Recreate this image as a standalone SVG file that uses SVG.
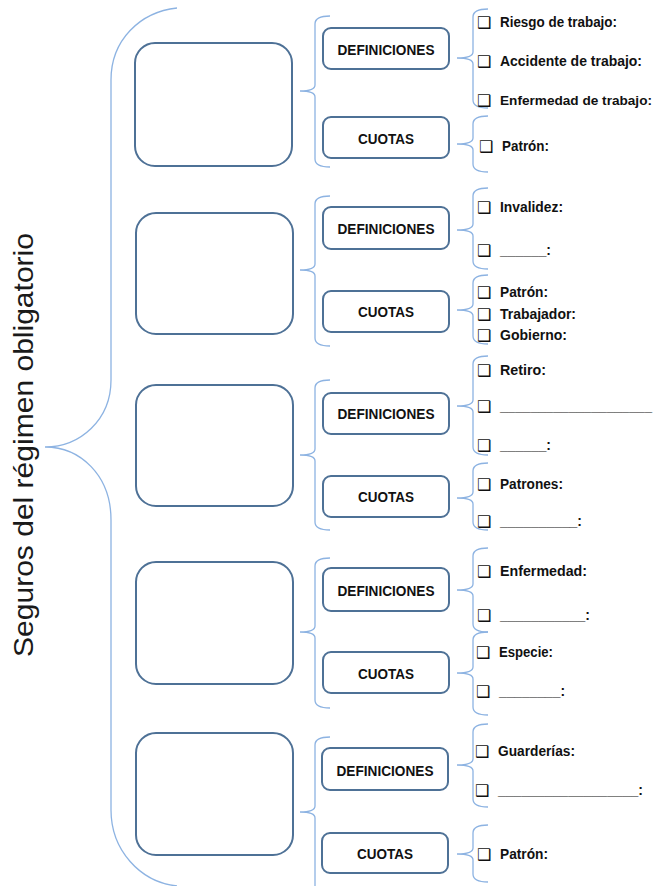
<svg xmlns="http://www.w3.org/2000/svg" width="658" height="886" viewBox="0 0 658 886">
<style>
.big{fill:#fff;stroke:#4e7196;stroke-width:2}
.sm{fill:#fff;stroke:#4e7196;stroke-width:2}
.br{fill:none;stroke:#8db3e2;stroke-width:1.3}
.lbl{font-family:"Liberation Sans",Arial,sans-serif;font-weight:bold;font-size:14px;fill:#111;text-anchor:middle}
.it{font-family:"Liberation Sans",Arial,sans-serif;font-weight:bold;font-size:14.5px;fill:#111}
.cb{font-family:"DejaVu Sans",sans-serif;font-weight:bold;font-size:16px;fill:#111}
.title{font-family:"Liberation Sans",Arial,sans-serif;font-size:28px;fill:#1a1a1a;text-anchor:middle}
</style>
<rect width="658" height="886" fill="#fff"/>
<g id="connectors">
<path class="br" d="M177,8 C140,12 111,40 111,80 V380 C111,420 80,447 45,447 C80,447 111,475 111,520 V810 C111,850 140,882 177,886"/>
<path class="br" d="M330,16 Q315,16 315,24 V85 Q315,91 300,91 Q315,91 315,97 V159 Q315,167 330,167"/>
<path class="br" d="M330,196 Q315,196 315,204 V264 Q315,270 300,270 Q315,270 315,276 V338 Q315,346 330,346"/>
<path class="br" d="M330,380 Q315,380 315,388 V449 Q315,455 300,455 Q315,455 315,461 V522 Q315,530 330,530"/>
<path class="br" d="M330,558 Q315,558 315,566 V626 Q315,632 300,632 Q315,632 315,638 V700 Q315,708 330,708"/>
<path class="br" d="M330,737 Q315,737 315,745 V806 Q315,812 300,812 Q315,812 315,818 V886"/>
<path class="br" d="M488,9 Q473,9 473,17 V52 Q473,58 457,58 Q473,58 473,64 V100 Q473,108 488,108"/>
<path class="br" d="M488,116 Q473,116 473,124 V138 Q473,144 457,144 Q473,144 473,150 V164 Q473,172 488,172"/>
<path class="br" d="M488,188 Q473,188 473,196 V224 Q473,230 457,230 Q473,230 473,236 V261 Q473,269 488,269"/>
<path class="br" d="M488,275 Q473,275 473,283 V304 Q473,310 457,310 Q473,310 473,316 V336 Q473,344 488,344"/>
<path class="br" d="M488,356 Q473,356 473,364 V400 Q473,406 457,406 Q473,406 473,412 V447 Q473,455 488,455"/>
<path class="br" d="M488,463 Q473,463 473,471 V492 Q473,498 457,498 Q473,498 473,504 V522 Q473,530 488,530"/>
<path class="br" d="M488,548 Q473,548 473,556 V584 Q473,590 457,590 Q473,590 473,596 V624 Q473,632 488,632"/>
<path class="br" d="M488,632 Q473,632 473,640 V667 Q473,673 457,673 Q473,673 473,679 V707 Q473,715 488,715"/>
<path class="br" d="M488,724 Q473,724 473,732 V759 Q473,765 457,765 Q473,765 473,771 V799 Q473,807 488,807"/>
<path class="br" d="M488,825 Q473,825 473,833 V848 Q473,854 457,854 Q473,854 473,860 V874 Q473,882 488,882"/>
</g>
<g id="title"><text class="title" transform="translate(33,445) rotate(-90)" textLength="424" lengthAdjust="spacingAndGlyphs">Seguros del régimen obligatorio</text></g>
<g id="box1"><rect class="big" x="135" y="43" width="157" height="123" rx="20"/></g>
<g id="box2"><rect class="big" x="136" y="213" width="157" height="121" rx="20"/></g>
<g id="box3"><rect class="big" x="136" y="385" width="157" height="121" rx="20"/></g>
<g id="box4"><rect class="big" x="136" y="562" width="157" height="122" rx="20"/></g>
<g id="box5"><rect class="big" x="136" y="733" width="157" height="122" rx="20"/></g>
<g id="def1"><rect class="sm" x="323" y="28" width="126" height="41" rx="8"/><text class="lbl" x="386" y="55" textLength="97" lengthAdjust="spacingAndGlyphs">DEFINICIONES</text></g>
<g id="cuo1"><rect class="sm" x="323" y="117" width="126" height="41" rx="8"/><text class="lbl" x="386" y="144" textLength="56" lengthAdjust="spacingAndGlyphs">CUOTAS</text></g>
<g id="def2"><rect class="sm" x="323" y="207" width="126" height="42" rx="8"/><text class="lbl" x="386" y="234" textLength="97" lengthAdjust="spacingAndGlyphs">DEFINICIONES</text></g>
<g id="cuo2"><rect class="sm" x="323" y="291" width="126" height="41" rx="8"/><text class="lbl" x="386" y="317" textLength="56" lengthAdjust="spacingAndGlyphs">CUOTAS</text></g>
<g id="def3"><rect class="sm" x="323" y="393" width="126" height="41" rx="8"/><text class="lbl" x="386" y="419" textLength="97" lengthAdjust="spacingAndGlyphs">DEFINICIONES</text></g>
<g id="cuo3"><rect class="sm" x="323" y="476" width="126" height="41" rx="8"/><text class="lbl" x="386" y="502" textLength="56" lengthAdjust="spacingAndGlyphs">CUOTAS</text></g>
<g id="def4"><rect class="sm" x="323" y="568" width="126" height="43" rx="8"/><text class="lbl" x="386" y="596" textLength="97" lengthAdjust="spacingAndGlyphs">DEFINICIONES</text></g>
<g id="cuo4"><rect class="sm" x="323" y="652" width="126" height="41" rx="8"/><text class="lbl" x="386" y="679" textLength="56" lengthAdjust="spacingAndGlyphs">CUOTAS</text></g>
<g id="def5"><rect class="sm" x="322" y="748" width="126" height="42" rx="8"/><text class="lbl" x="385" y="776" textLength="97" lengthAdjust="spacingAndGlyphs">DEFINICIONES</text></g>
<g id="cuo5"><rect class="sm" x="322" y="833" width="126" height="40" rx="8"/><text class="lbl" x="385" y="859" textLength="56" lengthAdjust="spacingAndGlyphs">CUOTAS</text></g>
<g id="items1">
<text class="cb" x="477" y="28">❑</text><text class="it" x="500" y="27" textLength="117" lengthAdjust="spacingAndGlyphs">Riesgo de trabajo:</text>
<text class="cb" x="477" y="67">❑</text><text class="it" x="500" y="66" textLength="142" lengthAdjust="spacingAndGlyphs">Accidente de trabajo:</text>
<text class="cb" x="477" y="106">❑</text><text class="it" x="500" y="105" style="font-size:13.5px" textLength="152" lengthAdjust="spacingAndGlyphs">Enfermedad de trabajo:</text>
<text class="cb" x="479" y="152">❑</text><text class="it" x="502" y="151" textLength="47" lengthAdjust="spacingAndGlyphs">Patrón:</text>
</g>
<g id="items2">
<text class="cb" x="477" y="213">❑</text><text class="it" x="500" y="212" textLength="63" lengthAdjust="spacingAndGlyphs">Invalidez:</text>
<text class="cb" x="477" y="256">❑</text><text class="it" x="500" y="255" textLength="51" lengthAdjust="spacingAndGlyphs">______:</text>
<text class="cb" x="477" y="298">❑</text><text class="it" x="500" y="297" textLength="48" lengthAdjust="spacingAndGlyphs">Patrón:</text>
<text class="cb" x="477" y="320">❑</text><text class="it" x="500" y="319" textLength="76" lengthAdjust="spacingAndGlyphs">Trabajador:</text>
<text class="cb" x="477" y="341">❑</text><text class="it" x="500" y="340" textLength="67" lengthAdjust="spacingAndGlyphs">Gobierno:</text>
</g>
<g id="items3">
<text class="cb" x="477" y="376">❑</text><text class="it" x="500" y="375" textLength="46" lengthAdjust="spacingAndGlyphs">Retiro:</text>
<text class="cb" x="477" y="412">❑</text><text class="it" x="500" y="411" style="font-size:13.5px" textLength="152" lengthAdjust="spacingAndGlyphs">____________________</text>
<text class="cb" x="477" y="451">❑</text><text class="it" x="500" y="450" textLength="51" lengthAdjust="spacingAndGlyphs">______:</text>
<text class="cb" x="477" y="490">❑</text><text class="it" x="500" y="489" textLength="63" lengthAdjust="spacingAndGlyphs">Patrones:</text>
<text class="cb" x="477" y="527">❑</text><text class="it" x="500" y="526" textLength="82" lengthAdjust="spacingAndGlyphs">__________:</text>
</g>
<g id="items4">
<text class="cb" x="477" y="577">❑</text><text class="it" x="500" y="576" textLength="87" lengthAdjust="spacingAndGlyphs">Enfermedad:</text>
<text class="cb" x="477" y="621">❑</text><text class="it" x="500" y="620" textLength="90" lengthAdjust="spacingAndGlyphs">___________:</text>
<text class="cb" x="476" y="658">❑</text><text class="it" x="499" y="657" textLength="54" lengthAdjust="spacingAndGlyphs">Especie:</text>
<text class="cb" x="476" y="697">❑</text><text class="it" x="499" y="696" textLength="66" lengthAdjust="spacingAndGlyphs">________:</text>
</g>
<g id="items5">
<text class="cb" x="475" y="757">❑</text><text class="it" x="498" y="756" textLength="77" lengthAdjust="spacingAndGlyphs">Guarderías:</text>
<text class="cb" x="475" y="796">❑</text><text class="it" x="498" y="795" textLength="145" lengthAdjust="spacingAndGlyphs">__________________:</text>
<text class="cb" x="477" y="860">❑</text><text class="it" x="500" y="859" textLength="48" lengthAdjust="spacingAndGlyphs">Patrón:</text>
</g>
</svg>
